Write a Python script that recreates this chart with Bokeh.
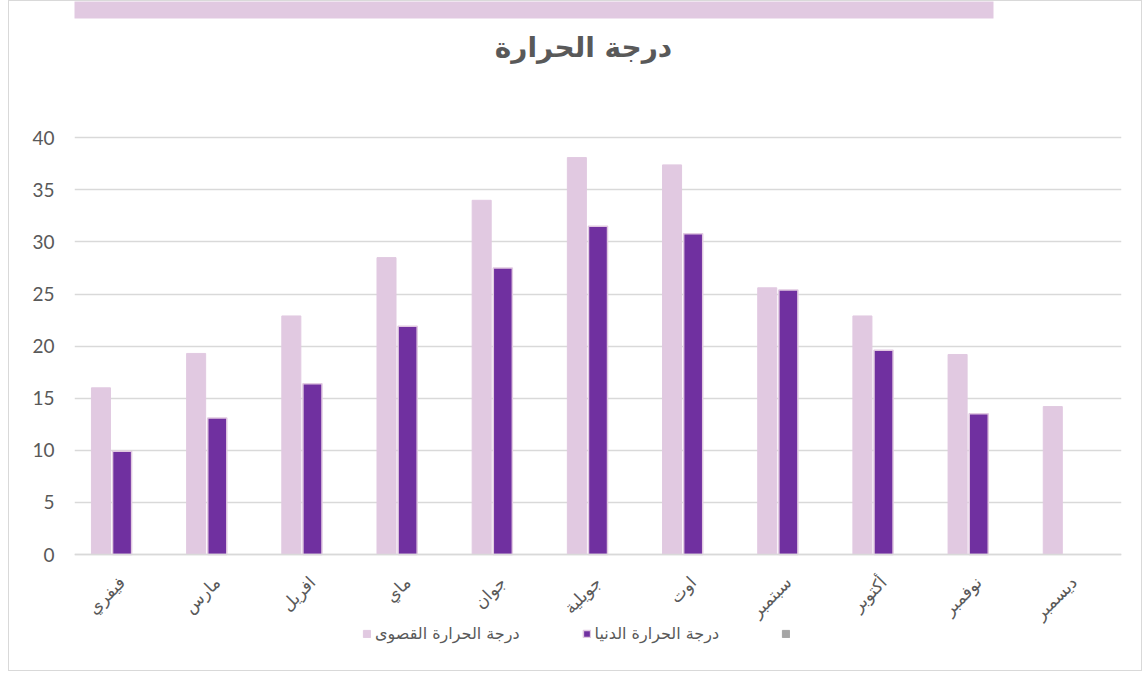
import math
from bokeh.plotting import figure
from bokeh.models import (FactorRange, Legend, LegendItem, ColumnDataSource,
                          FixedTicker, Range1d, BoxAnnotation, Label)
from bokeh.transform import dodge
from bokeh.embed import file_html
from bokeh.resources import INLINE

# ---- data ----
months = ["فيفري", "مارس", "افريل", "ماي", "جوان", "جويلية", "اوت",
          "سبتمبر", "أكتوبر", "نوفمبر", "ديسمبر"]
t_max = [16.0, 19.3, 22.9, 28.5, 34.0, 38.1, 37.4, 25.6, 22.9, 19.2, 14.2]
t_min = [9.9, 13.1, 16.4, 21.9, 27.5, 31.5, 30.8, 25.4, 19.6, 13.5, None]
t_third = [None] * 11
y_ticks = [0, 5, 10, 15, 20, 25, 30, 35, 40]
series_names = ["درجة الحرارة القصوى", "درجة الحرارة الدنيا", ""]
title_text = "درجة الحرارة"

def nan(v):
    return float("nan") if v is None else v

src = ColumnDataSource(dict(
    x=months,
    tmax=[nan(v) for v in t_max],
    tmin=[nan(v) for v in t_min],
    t3=[nan(v) for v in t_third],
))

PINK = "#E1C9E1"
PURPLE = "#7030A0"
GREY = "#A5A5A5"
TXT = "#595959"
GRID = "#D9D9D9"
AR_FONT = "DejaVu Sans"

W, H = 1134, 671
ZERO_ROW = 553                        # canvas row of value 0
PX_PER_UNIT = 416.7 / 40.0
Y_TOP = ZERO_ROW / PX_PER_UNIT
Y_BOTTOM = -(H - ZERO_ROW) / PX_PER_UNIT

def ycanvas(cy):
    """canvas pixel row -> data value (layout decorations only)"""
    return (ZERO_ROW - cy) / PX_PER_UNIT

p = figure(width=W, height=H, x_range=FactorRange(*months),
           y_range=Range1d(Y_BOTTOM, Y_TOP),
           output_backend="svg", toolbar_location=None, title=None,
           min_border_left=65, min_border_right=22, min_border_top=0,
           min_border_bottom=0)
p.outline_line_color = None
p.background_fill_color = "white"
p.border_fill_color = "white"
p.styles = {"margin-left": "8px", "border": "1px solid #D9D9D9"}

bw = 0.2
r1 = p.vbar(x=dodge("x", -0.222, range=p.x_range), top="tmax", width=bw, source=src,
            fill_color=PINK, line_color=PINK, line_width=1)
r2 = p.vbar(x=dodge("x", 0.0, range=p.x_range), top="tmin", width=bw, source=src,
            fill_color=PURPLE, line_color=PINK, line_width=1.5)
r3 = p.vbar(x=dodge("x", 0.222, range=p.x_range), top="t3", width=bw, source=src,
            fill_color=GREY, line_color=GREY, line_width=1)

p.yaxis.ticker = FixedTicker(ticks=y_ticks)
p.yaxis.axis_line_color = None
p.yaxis.major_tick_line_color = None
p.yaxis.minor_tick_line_color = None
p.yaxis.major_label_text_font = "Lato"
p.yaxis.major_label_text_font_size = "19px"
p.yaxis.major_label_text_color = TXT
p.yaxis.major_label_standoff = 14

p.xaxis.fixed_location = 0
p.xaxis.axis_line_color = GRID
p.xaxis.axis_line_width = 1.5
p.xaxis.major_tick_line_color = None
p.xaxis.minor_tick_line_color = None
p.xaxis.major_label_orientation = math.pi / 4
p.xaxis.major_label_text_font = AR_FONT
p.xaxis.major_label_text_font_size = "17px"
p.xaxis.major_label_text_color = TXT
p.xaxis.major_label_standoff = 19

p.xgrid.grid_line_color = None
p.ygrid.grid_line_color = GRID
p.ygrid.grid_line_width = 1.5

# banner across the top
banner = BoxAnnotation(left=59, right=983, left_units="canvas", right_units="canvas",
                       bottom=ycanvas(17), top=Y_TOP + 1,
                       fill_color=PINK, fill_alpha=1.0, line_color=None)
p.add_layout(banner)

# chart title
title = Label(x=573, x_units="canvas", y=ycanvas(46), text=title_text,
              text_align="center", text_baseline="middle",
              text_font=AR_FONT, text_font_style="bold",
              text_font_size="28px", text_color=TXT)
p.add_layout(title)

legend = Legend(items=[LegendItem(label=series_names[0], renderers=[r1]),
                       LegendItem(label=series_names[1], renderers=[r2]),
                       LegendItem(label=series_names[2], renderers=[r3])],
                orientation="horizontal", location=(288, 29),
                padding=0, margin=0, spacing=62, label_standoff=4,
                glyph_width=9, glyph_height=9,
                label_text_font=AR_FONT, label_text_font_size="16px",
                label_text_color=TXT, border_line_color=None,
                background_fill_alpha=0)
p.add_layout(legend, "center")

open("out.html", "w").write(file_html(p, INLINE))
